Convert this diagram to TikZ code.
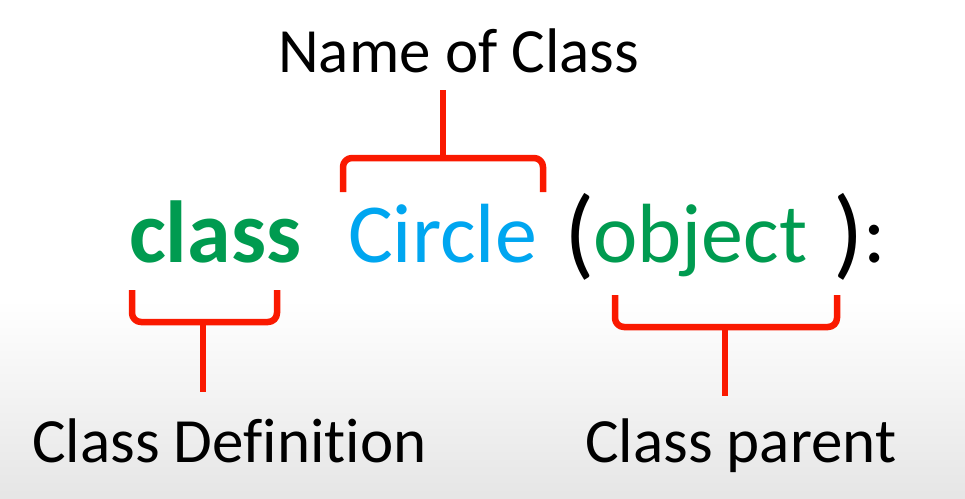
\documentclass[tikz,border=0pt]{standalone}
\usepackage{fontspec}
\setmainfont{Carlito}[Ligatures=NoCommon]
\definecolor{kwgreen}{RGB}{0,155,80}
\definecolor{nameblue}{RGB}{0,166,240}
\definecolor{bracered}{RGB}{250,25,0}
\tikzset{
  brace/.style={draw=bracered, line width=6.5pt, rounded corners=9pt},
  word/.style={anchor=base west, inner sep=0pt},
  big/.style={font=\fontsize{84}{84}\selectfont},
  bigbold/.style={font=\fontsize{88}{88}\selectfont\bfseries},
  paren/.style={font=\fontsize{100}{100}\selectfont}
}
\begin{document}
\begin{tikzpicture}[x=1pt, y=-1pt, font=\fontsize{63}{63}\selectfont, line join=round]
	\useasboundingbox (0,0) rectangle (965,498);
	\fill[white] (0,0) rectangle (965,498);
	\shade[top color=white, bottom color=black!10] (0,300) rectangle (965,498);
	% labels
	\node[word] (title) at (278,72) {Name of Class};
	\node[word] (deflabel) at (32,462) {Class Definition};
	\node[word] (parlabel) at (585,462) {Class parent};
	% the code line
	\node[word, bigbold, text=kwgreen] (kw) at (129,262) {class};
	\node[word, big, text=nameblue] (cname) at (348,262) {Circle};
	\node[word, paren] (lpar) at (564,266) {(};
	\node[word, big, text=kwgreen] (parent) at (593,262) {object};
	\node[word, paren] (rpar) at (833,266) {)};
	\node[word, big] (colon) at (863,262) {:};
	% brackets
	\foreach \b/\xl/\xr/\ye/\yb/\xs/\ys in {name/343/543/192/158/443/90, def/132/277/290/322/203/392, par/615/837/295/327/725/396}{
		\path (\xl,\ye) coordinate (\b-l) (\xr,\ye) coordinate (\b-r)
		(\xs,\yb) coordinate (\b-m) (\xs,\ys) coordinate (\b-t);
		\draw[brace] (\b-l) |- (\b-m) -| (\b-r);
		\draw[brace] (\b-m) -- (\b-t);
	}
\end{tikzpicture}
\end{document}
